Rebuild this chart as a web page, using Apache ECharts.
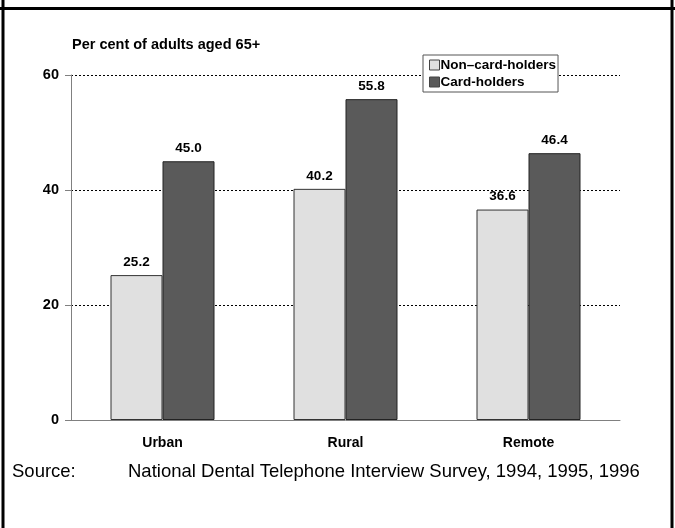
<!DOCTYPE html>
<html>
<head>
<meta charset="utf-8">
<script src="https://cdn.jsdelivr.net/npm/echarts@6/dist/echarts.min.js"></script>
<style>
  html, body { margin: 0; padding: 0; background: #fff; }
  #chart { width: 675px; height: 528px; }
</style>
</head>
<body>
<div id="chart"></div>
<script>
// Dental card-holder comparison by region
const categories = ['Urban', 'Rural', 'Remote'];
const nonCardHolders = [25.2, 40.2, 36.6];
const cardHolders = [45.0, 55.8, 46.4];
const yTicks = [0, 20, 40, 60];
const seriesNames = ['Non\u2013card-holders', 'Card-holders'];

const FONT = '"Liberation Sans", Arial, Helvetica, sans-serif';
const chart = echarts.init(document.getElementById('chart'), null, { renderer: 'canvas' });

const labelStyle = {
  show: true,
  position: 'top',
  distance: 6,
  formatter: p => p.value.toFixed(1),
  fontFamily: FONT,
  fontWeight: 'bold',
  fontSize: 13.5,
  color: '#000'
};

chart.setOption({
  animation: false,
  backgroundColor: '#fff',
  grid: { left: 71, right: 55, top: 75, bottom: 108 },
  legend: {
    orient: 'vertical',
    left: 423,
    top: 55,
    itemWidth: 10,
    itemHeight: 10,
    itemGap: 3,
    padding: [3, 2, 3, 6],
    borderColor: '#555',
    borderWidth: 1,
    backgroundColor: '#fff',
    icon: 'rect',
    textStyle: { fontFamily: FONT, fontWeight: 'bold', fontSize: 13.5, color: '#000', padding: [0, 0, 0, -4] },
    data: seriesNames.map(n => ({ name: n, itemStyle: { borderColor: '#444', borderWidth: 1 } }))
  },
  xAxis: {
    type: 'category',
    data: categories,
    axisLine: { lineStyle: { color: '#808080', width: 1 } },
    axisTick: { show: false },
    axisLabel: { fontFamily: FONT, fontWeight: 'bold', fontSize: 14, color: '#000', margin: 16 }
  },
  yAxis: {
    type: 'value',
    min: 0,
    max: 60,
    interval: 20,
    axisLine: { show: true, lineStyle: { color: '#808080', width: 1 } },
    axisTick: { show: true, length: 6, lineStyle: { color: '#808080' } },
    axisLabel: {
      fontFamily: FONT, fontWeight: 'bold', fontSize: 14.5, color: '#000', margin: 12,
      formatter: v => (yTicks.includes(v) ? String(v) : '')
    },
    splitLine: {
      show: true,
      lineStyle: { color: '#000', type: [2, 2], width: 1 }
    }
  },
  series: [
    {
      name: seriesNames[0],
      type: 'bar',
      data: nonCardHolders,
      barWidth: 52,
      barGap: '0%',
      itemStyle: { color: '#e0e0e0', borderColor: '#333', borderWidth: 1 },
      label: labelStyle,
      z: 3
    },
    {
      name: seriesNames[1],
      type: 'bar',
      data: cardHolders,
      barWidth: 52,
      itemStyle: { color: '#5a5a5a', borderColor: '#222', borderWidth: 1 },
      label: labelStyle,
      z: 3
    }
  ],
  graphic: [
    // outer frame
    { type: 'line', shape: { x1: 3, y1: 0, x2: 3, y2: 528 }, style: { stroke: '#000', lineWidth: 3 }, silent: true },
    { type: 'line', shape: { x1: 672, y1: 0, x2: 672, y2: 528 }, style: { stroke: '#000', lineWidth: 3 }, silent: true },
    { type: 'line', shape: { x1: 0, y1: 8.5, x2: 675, y2: 8.5 }, style: { stroke: '#000', lineWidth: 3 }, silent: true },
    // y-axis caption
    {
      type: 'text', left: 72, top: 37,
      style: { text: 'Per cent of adults aged 65+', fontFamily: FONT, fontWeight: 'bold', fontSize: 14.5, fill: '#000' },
      silent: true
    },
    // source note
    {
      type: 'text', left: 12, top: 462,
      style: { text: 'Source:', fontFamily: FONT, fontSize: 18.5, fill: '#000' },
      silent: true
    },
    {
      type: 'text', left: 128, top: 462,
      style: { text: 'National Dental Telephone Interview Survey, 1994, 1995, 1996', fontFamily: FONT, fontSize: 18.5, fill: '#000' },
      silent: true
    }
  ]
});
</script>
</body>
</html>
